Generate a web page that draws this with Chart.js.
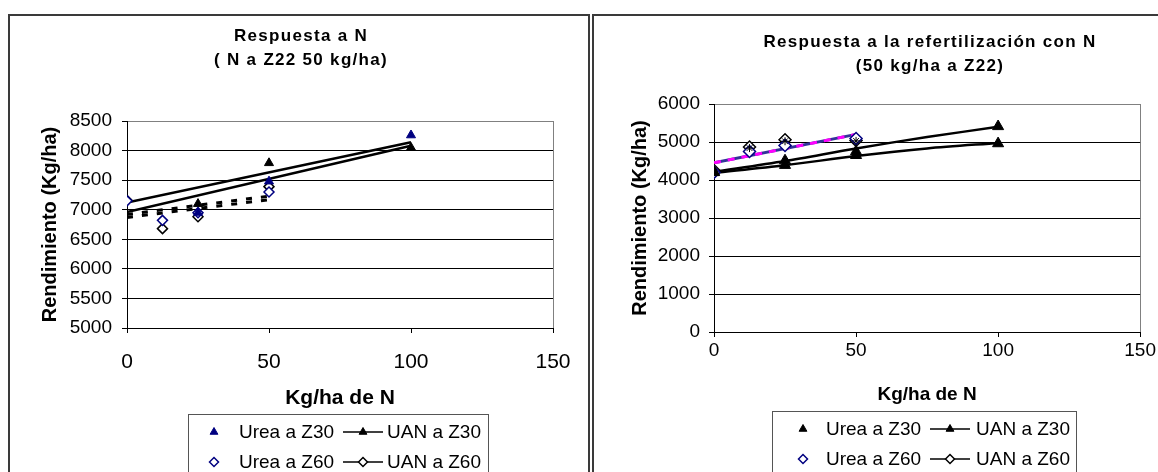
<!DOCTYPE html>
<html>
<head>
<meta charset="utf-8">
<script src="https://cdn.jsdelivr.net/npm/chart.js@4.4.1/dist/chart.umd.min.js"></script>
<style>
  html, body { margin: 0; padding: 0; background: #fff; width: 1158px; height: 472px; overflow: hidden; }
  .box { position: absolute; border: 2px solid #3a3a3a; box-sizing: border-box; }
  canvas { position: absolute; }
</style>
</head>
<body>
<div class="box" style="left:8px; top:14px; width:582px; height:520px;"></div>
<div class="box" style="left:592px; top:14px; width:600px; height:520px;"></div>
<canvas id="leftChart" width="578" height="456" style="left:10px; top:16px;"></canvas>
<canvas id="rightChart" width="564" height="456" style="left:594px; top:16px;"></canvas>

<script>
// ---- shared ticks ----
const xTicks = [0, 50, 100, 150];
const leftYTicks = [5000, 5500, 6000, 6500, 7000, 7500, 8000, 8500];
const rightYTicks = [0, 1000, 2000, 3000, 4000, 5000, 6000];

const seriesNames = ["Urea a Z30", "UAN a Z30", "Urea a Z60", "UAN a Z60"];

// ---- left chart: Respuesta a N (N a Z22 50 kg/ha) ----
const leftDoseZ30 = [25, 50, 100];
const leftUreaZ30 = [6950, 7480, 8260];
const leftUanZ30 = [7100, 7790, 8050];
const leftDoseZ60 = [0, 12.5, 25, 50];
const leftUreaZ60 = [7150, 6820, 6950, 7300];
const leftUanZ60 = [7160, 6680, 6880, 7390];
// trend lines
const leftTrendDoseZ30 = [0, 100];
const leftTrendUreaZ30 = [7120, 8140];
const leftTrendUanZ30 = [6960, 8080];
const leftTrendDoseZ60 = [0, 50];
const leftTrendUreaZ60 = [6920, 7230];
const leftTrendUanZ60 = [6870, 7170];

// ---- right chart: Respuesta a la refertilizacion ----
const rightDoseZ30 = [0, 25, 50, 100];
const rightUreaZ30 = [4200, 4390, 4650, 4960];
const rightUanZ30 = [4210, 4510, 4750, 5410];
const rightDoseZ60 = [0, 12.5, 25, 50];
const rightUreaZ60 = [4200, 4750, 4910, 5090];
const rightUanZ60 = [4250, 4870, 5060, 5040];
// small star marks inside the diamonds
const rightStarDose = [12.5, 25, 50];
const rightStarZ60 = [4840, 5020, 5030];
const rightCurveDose = [0, 25, 50, 75, 100];
const rightCurveUpper = [4210, 4500, 4830, 5130, 5400];
const rightCurveLower = [4190, 4390, 4630, 4830, 4975];
const rightTrendDose = [0, 50];
const rightTrendZ60 = [4450, 5200];

const FONT = '"Liberation Sans", Arial, sans-serif';
Chart.defaults.font.family = FONT;
Chart.defaults.color = "#000";

const NAVY = "#000080";

function pts(xs, ys) {
  return xs.map((x, i) => ({ x: x, y: ys[i] }));
}

function markers(label, xs, ys, style, r, color, fill, legendLine) {
  return {
    label: label,
    data: pts(xs, ys),
    showLine: false,
    pointStyle: style,
    pointRadius: r,
    borderColor: color,
    backgroundColor: fill,
    borderWidth: style === "triangle" ? 1 : 1.5,
    legendLine: legendLine
  };
}

function line(xs, ys, color, width, dash, tension) {
  return {
    label: "",
    data: pts(xs, ys),
    showLine: true,
    pointRadius: 0,
    borderColor: color,
    borderWidth: width,
    borderDash: dash || [],
    tension: tension || 0,
    fill: false
  };
}

// titles, legend box
const decor = {
  id: "decor",
  afterDraw(chart, args, opts) {
    const ctx = chart.ctx;
    ctx.save();
    ctx.fillStyle = "#000";
    ctx.textAlign = "center";
    ctx.textBaseline = "middle";
    ctx.font = "bold 17px " + FONT;
    ctx.letterSpacing = "1.3px";
    opts.title.forEach((t, i) => ctx.fillText(t, opts.titleX, opts.titleY + i * 24));
    ctx.letterSpacing = "0px";

    const lg = opts.legend;
    ctx.strokeStyle = "#555";
    ctx.lineWidth = 1;
    ctx.strokeRect(lg.x + 0.5, lg.y + 0.5, lg.w, 200);

    ctx.font = "19px " + FONT;
    ctx.textAlign = "left";
    for (let i = 0; i < 4; i++) {
      const ds = chart.data.datasets[i];
      const col = i % 2, row = Math.floor(i / 2);
      const y = lg.y + 18 + row * 30;
      const mx = lg.x + (col ? lg.lineMid : lg.markX);
      if (ds.legendLine) {
        ctx.strokeStyle = "#000";
        ctx.lineWidth = 1.5;
        ctx.beginPath();
        ctx.moveTo(mx - 20, y);
        ctx.lineTo(mx + 20, y);
        ctx.stroke();
      }
      ctx.fillStyle = ds.backgroundColor;
      ctx.strokeStyle = ds.borderColor;
      ctx.lineWidth = ds.borderWidth;
      Chart.helpers.drawPoint(ctx, { pointStyle: ds.pointStyle, radius: lg.r, borderWidth: ds.borderWidth, rotation: 0 }, mx, y);
      ctx.fillStyle = "#000";
      ctx.fillText(ds.label, lg.x + (col ? lg.text2 : lg.text1), y + 1);
    }
    ctx.restore();
  }
};

function axes(cfg) {
  return {
    x: {
      type: "linear", min: 0, max: 150,
      afterBuildTicks: ax => { ax.ticks = xTicks.map(v => ({ value: v })); },
      ticks: { font: { size: cfg.xFont }, padding: cfg.xPad, maxRotation: 0, callback: v => String(v) },
      grid: {
        color: c => (c.tick && c.tick.value === 150 ? "#808080" : "rgba(0,0,0,0)"),
        tickColor: "#000", tickLength: 5
      },
      border: { color: "#000", width: 1 },
      title: { display: true, text: "Kg/ha de N", font: { size: cfg.xFont, weight: "bold" }, padding: { top: 0, bottom: cfg.xTitlePad } },
      afterFit: ax => { ax.height = cfg.xH; }
    },
    y: {
      type: "linear", min: cfg.yTicks[0], max: cfg.yTicks[cfg.yTicks.length - 1],
      afterBuildTicks: ax => { ax.ticks = cfg.yTicks.map(v => ({ value: v })); },
      ticks: { font: { size: 19 }, padding: cfg.yPad, callback: v => String(v) },
      grid: {
        color: c => (c.tick && c.tick.value === cfg.yTicks[cfg.yTicks.length - 1] ? "#808080" : "#000"),
        tickColor: "#000", tickLength: 5
      },
      border: { color: "#000", width: 1 },
      title: { display: true, text: "Rendimiento (Kg/ha)", font: { size: 20, weight: "bold" }, padding: { top: cfg.yTitlePad, bottom: 0 } },
      afterFit: ax => { ax.width = cfg.yW; }
    }
  };
}

new Chart(document.getElementById("leftChart"), {
  type: "scatter",
  data: {
    datasets: [
      markers(seriesNames[0], leftDoseZ30, leftUreaZ30, "triangle", 5.2, NAVY, NAVY, false),
      markers(seriesNames[1], leftDoseZ30, leftUanZ30, "triangle", 5.2, "#000", "#000", true),
      markers(seriesNames[2], leftDoseZ60, leftUreaZ60, "rectRot", 5, NAVY, "#fff", false),
      markers(seriesNames[3], leftDoseZ60, leftUanZ60, "rectRot", 5, "#000", "#fff", true),
      line(leftTrendDoseZ30, leftTrendUreaZ30, "#000", 2.5),
      line(leftTrendDoseZ30, leftTrendUanZ30, "#000", 2.5),
      line(leftTrendDoseZ60, leftTrendUreaZ60, "#000", 3, [6, 9]),
      line(leftTrendDoseZ60, leftTrendUanZ60, "#000", 3, [6, 9])
    ]
  },
  options: {
    responsive: false, animation: false, devicePixelRatio: 1,
    layout: { padding: { left: 0, top: 105, right: 35, bottom: 0 } },
    plugins: {
      legend: { display: false }, tooltip: { enabled: false },
      decor: {
        title: ["Respuesta a N", "( N a Z22 50 kg/ha)"], titleX: 291, titleY: 20,
        legend: { x: 178, y: 398, w: 300, r: 4.5, markX: 26, text1: 51, lineMid: 175, text2: 199 }
      }
    },
    scales: axes({ yTicks: leftYTicks, xFont: 21, xPad: 17, xTitlePad: 61, xH: 144, yPad: 10, yTitlePad: 28, yW: 117 })
  },
  plugins: [decor]
});

const starSet = markers("", rightStarDose, rightStarZ60, "star", 4, "#000", "#000", false);
starSet.borderWidth = 1;
starSet.order = -1;

new Chart(document.getElementById("rightChart"), {
  type: "scatter",
  data: {
    datasets: [
      markers(seriesNames[0], rightDoseZ30, rightUreaZ30, "triangle", 6.4, "#000", "#000", false),
      markers(seriesNames[1], rightDoseZ30, rightUanZ30, "triangle", 6.4, "#000", "#000", true),
      markers(seriesNames[2], rightDoseZ60, rightUreaZ60, "rectRot", 6, NAVY, "#fff", false),
      markers(seriesNames[3], rightDoseZ60, rightUanZ60, "rectRot", 6, "#000", "#fff", true),
      starSet,
      line(rightTrendDose, rightTrendZ60, "#FF00FF", 3, [7, 7]),
      line(rightTrendDose, rightTrendZ60, "#333399", 3),
      line(rightCurveDose, rightCurveUpper, "#000", 2.5, null, 0.3),
      line(rightCurveDose, rightCurveLower, "#000", 2.5, null, 0.3)
    ]
  },
  options: {
    responsive: false, animation: false, devicePixelRatio: 1,
    layout: { padding: { left: 0, top: 88, right: 16, bottom: 0 } },
    plugins: {
      legend: { display: false }, tooltip: { enabled: false },
      decor: {
        title: ["Respuesta a la refertilización con N", "(50 kg/ha a Z22)"], titleX: 336, titleY: 26,
        legend: { x: 178, y: 395, w: 304, r: 4.5, markX: 31, text1: 54, lineMid: 178, text2: 204 }
      }
    },
    scales: axes({ yTicks: rightYTicks, xFont: 19, xPad: 2, xTitlePad: 66, xH: 140, yPad: 9, yTitlePad: 34, yW: 120 })
  },
  plugins: [decor]
});
</script>
</body>
</html>
